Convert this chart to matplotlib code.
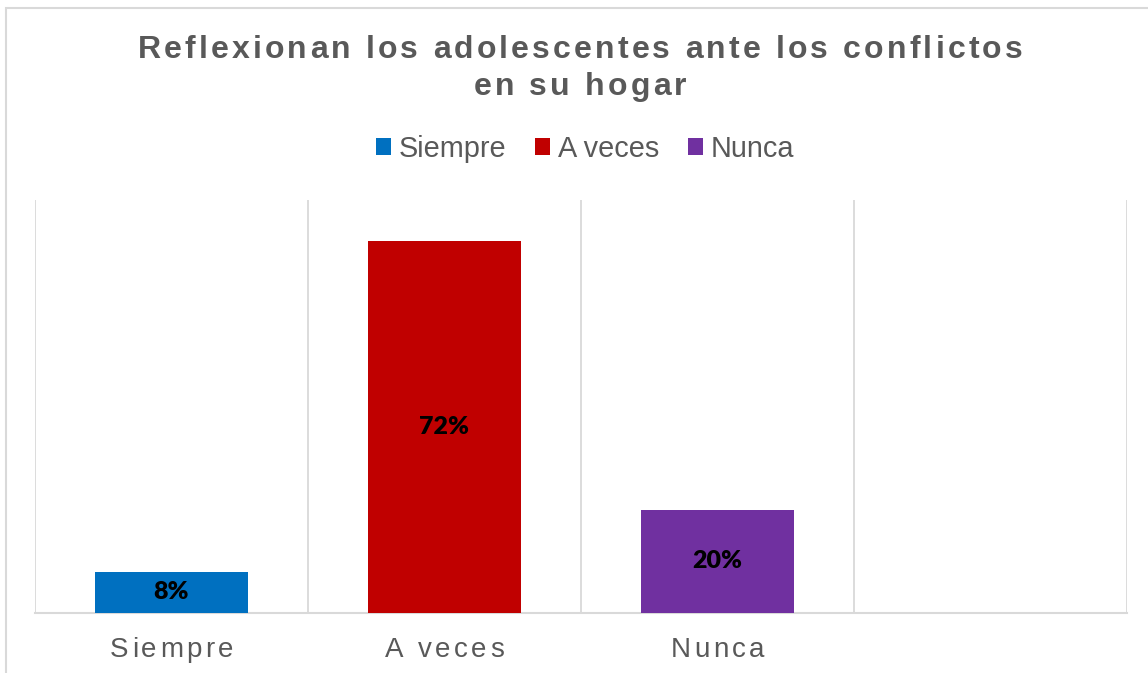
import matplotlib
matplotlib.use('Agg')
import matplotlib.pyplot as plt
from matplotlib.patches import Rectangle
from matplotlib.transforms import offset_copy, blended_transform_factory
from matplotlib.font_manager import FontProperties, findfont
from matplotlib.ft2font import FT2Font

# datos
categorias = ['Siempre', 'A veces', 'Nunca']
valores = [8, 72, 20]
colores = ['#0070C0', '#C00000', '#7030A0']
n_espacios = 4  # la grafica deja un cuarto hueco vacio
titulo = ['Reflexionan los adolescentes ante los conflictos', 'en su hogar']

GRIS = '#595959'
LINEA = '#D9D9D9'
W, H = 1148, 673

fig = plt.figure(figsize=(W / 100, H / 100), dpi=100)
ax = fig.add_axes([35 / W, 60 / H, (1127 - 35) / W, 413 / H])


def texto_espaciado(x, y, s, trans, size, esp, weight='normal', dy=0):
    # texto con espaciado entre letras (como en Excel)
    prop = FontProperties(family='Liberation Sans', weight=weight, size=size)
    font = FT2Font(findfont(prop))
    font.set_size(size, 72)
    adv = [font.load_char(ord(c)).linearHoriAdvance / 65536 for c in s]
    total = sum(adv) + esp * (len(s) - 1)
    dx = -total / 2
    for c, a in zip(s, adv):
        t = offset_copy(trans, fig=fig, x=dx, y=dy, units='points')
        fig.text(x, y, c, transform=t, ha='left', va='baseline',
                 fontproperties=prop, color=GRIS)
        dx += a + esp


# barras
pos = list(range(len(categorias)))
barras = ax.bar(pos, valores, width=0.56, color=colores, zorder=3)
ax.bar_label(barras, labels=[f'{v}%' for v in valores], label_type='center',
             fontsize=18, fontweight='heavy', family='Lato', color='black')

ax.set_xlim(-0.5, n_espacios - 0.5)
ax.set_ylim(0, 80)
ax.set_yticks([])
ax.set_xticks([])
ax.set_xticks([i - 0.5 for i in range(n_espacios + 1)], minor=True)
ax.tick_params(which='both', length=0, labelbottom=False)
ax.grid(True, which='minor', axis='x', color=LINEA, linewidth=1.3, zorder=0)
for lado in ['top', 'right', 'left']:
    ax.spines[lado].set_visible(False)
ax.spines['bottom'].set_color(LINEA)
ax.spines['bottom'].set_linewidth(1.5)

# etiquetas del eje x con espaciado
tx = blended_transform_factory(ax.transData, ax.transAxes)
for i, c in zip(pos, categorias):
    texto_espaciado(i, 0, c, tx, 20, 2.4, dy=-31.5)

# titulo
texto_espaciado(580 / W, 1 - 58.5 / H, titulo[0], fig.transFigure, 23, 2.27, weight='bold')
texto_espaciado(580 / W, 1 - 95 / H, titulo[1], fig.transFigure, 23, 2.27, weight='bold')

# leyenda
leg = ax.legend(barras.patches, categorias, loc='center', ncol=3, frameon=False,
                bbox_to_anchor=(585 / W, 1 - 149 / H), bbox_transform=fig.transFigure,
                prop=FontProperties(family='Liberation Sans', size=20.8),
                handlelength=0.53, handleheight=0.53, handletextpad=0.25,
                columnspacing=1.0, borderpad=0, borderaxespad=0)
for t in leg.get_texts():
    t.set_color(GRIS)

# marco del grafico
fig.patches.append(Rectangle((6 / W, -0.1), 1.2, 1 - 8.5 / H + 0.1, transform=fig.transFigure,
                             fill=False, edgecolor=LINEA, linewidth=1.5))

fig.savefig('out.png', dpi=100)
